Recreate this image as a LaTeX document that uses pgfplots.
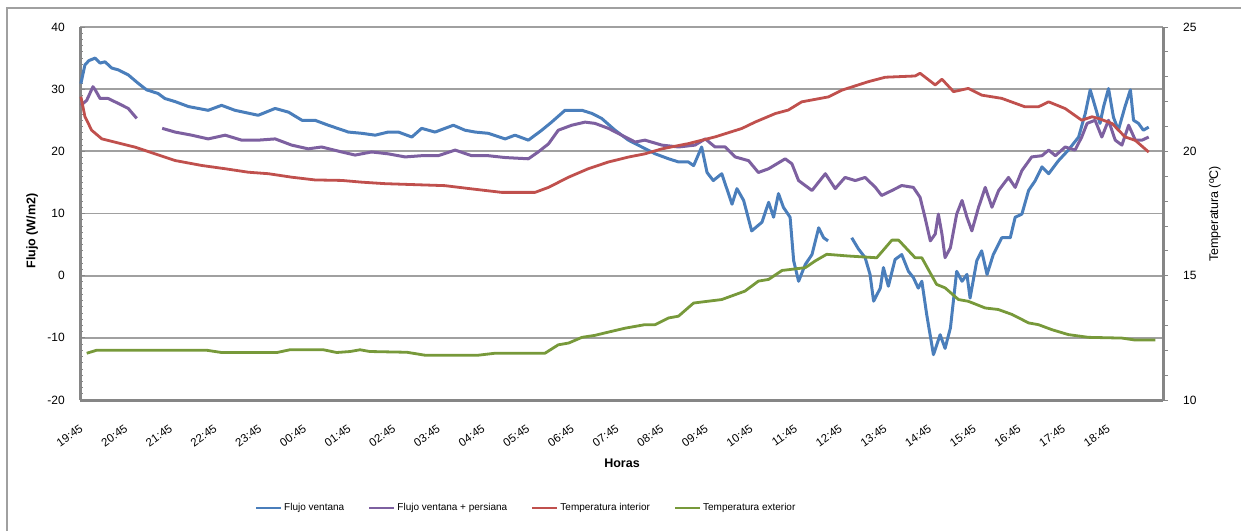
\documentclass[border=0pt]{standalone}
\usepackage{pgfplots}
\pgfplotsset{compat=1.18}
\usepackage{fontspec}
\setmainfont{Liberation Sans}
\definecolor{cblue}{HTML}{4A7EBB}
\definecolor{cpurple}{HTML}{7D60A0}
\definecolor{cred}{HTML}{C0504D}
\definecolor{cgreen}{HTML}{77993A}
\definecolor{gridgray}{HTML}{A0A0A0}
\definecolor{axisgray}{HTML}{868686}
\begin{document}
\begin{tikzpicture}[x=1pt,y=1pt]
\useasboundingbox (0,0) rectangle (1241,531);
\draw[gridgray, line width=1.5pt] (7,0) -- (7,523) -- (1241,523);
\begin{axis}[
  at={(80pt,131pt)}, anchor=south west,
  scale only axis, width=1083pt, height=373pt,
  xmin=0, xmax=24.25, ymin=-20, ymax=40,
  axis x line*=bottom, axis y line*=left,
  axis line style={-, draw=axisgray, line width=3pt},
  ytick={-20,-10,...,40}, minor y tick num=9,
  tick align=inside, major tick length=5pt, minor tick length=3pt,
  ytick style={draw=axisgray, line width=0.8pt},
  minor tick style={draw=axisgray, line width=0.6pt},
  xtick style={draw=none},
  ymajorgrids, grid style={draw=gridgray, line width=1.8pt},
  xtick={0,1,...,23},
  xticklabels={19:45,20:45,21:45,22:45,23:45,00:45,01:45,02:45,03:45,04:45,05:45,06:45,07:45,08:45,09:45,10:45,11:45,12:45,13:45,14:45,15:45,16:45,17:45,18:45},
  xticklabel style={xshift=2pt, yshift=-27pt, rotate=35, anchor=east, inner sep=0.5pt, font=\fontsize{11.5}{12}\selectfont},
  yticklabel style={anchor=east, inner sep=0pt, xshift=-15pt, font=\fontsize{12}{14}\selectfont},
  /pgf/number format/assume math mode=true,
  ylabel={\textbf{Flujo (W/m2)}},
  ylabel style={at={(axis description cs:-0.0443,0.453)}, anchor=center, font=\fontsize{12.5}{14}\selectfont},
  xlabel={\textbf{Horas}},
  xlabel style={at={(axis description cs:0.5005,-0.169)}, anchor=center, font=\fontsize{12.5}{14}\selectfont},
  unbounded coords=jump,
  clip=false,
]
% Flujo ventana
\addplot[cblue, line width=3pt, line join=round] coordinates {
(0.02,30.9) (0.11,33.9) (0.20,34.6) (0.34,35.0) (0.45,34.2) (0.56,34.4) (0.71,33.4) (0.86,33.1) (1.08,32.3)
(1.31,30.9) (1.49,29.9) (1.75,29.3) (1.90,28.5) (2.13,28.0) (2.43,27.2) (2.87,26.6) (3.17,27.4) (3.47,26.6)
(3.99,25.8) (4.37,26.9) (4.67,26.3) (4.97,25.0) (5.26,25.0) (5.56,24.2) (6.01,23.1) (6.31,22.9) (6.61,22.6)
(6.90,23.1) (7.13,23.1) (7.43,22.3) (7.65,23.7) (7.95,23.1) (8.36,24.2) (8.62,23.4) (8.85,23.1) (9.14,22.9)
(9.52,22.0) (9.74,22.6) (10.04,21.8) (10.34,23.4) (10.56,24.7) (10.86,26.6) (11.24,26.6) (11.46,26.1)
(11.68,25.3) (11.98,23.4) (12.28,21.8) (12.58,20.7) (12.88,19.6) (13.18,18.8) (13.40,18.3) (13.62,18.3)
(13.74,17.7) (13.92,20.7) (14.04,16.6) (14.18,15.3) (14.37,16.4) (14.60,11.5) (14.71,14.0) (14.86,12.1)
(15.04,7.2) (15.27,8.6) (15.42,11.8) (15.53,9.4) (15.64,13.2) (15.75,11.0) (15.90,9.4) (15.98,2.4)
(16.09,-0.9) (16.24,1.8) (16.39,3.4) (16.54,7.7) (16.65,6.1) (16.75,5.6)
(17.00,nan)
(17.28,6.1) (17.43,4.3) (17.58,2.9) (17.69,0.2) (17.77,-4.1) (17.92,-2.0) (17.99,1.3) (18.10,-1.7)
(18.25,2.6) (18.40,3.4) (18.55,0.7) (18.66,-0.3) (18.77,-2.0) (18.85,-0.9) (18.96,-6.3) (19.11,-12.7)
(19.26,-9.5) (19.37,-11.7) (19.49,-8.4) (19.63,0.7) (19.75,-0.9) (19.86,0.2) (19.93,-3.6) (20.08,2.4)
(20.19,4.0) (20.31,0.2) (20.45,3.4) (20.64,6.1) (20.83,6.1) (20.94,9.4) (21.09,9.9) (21.24,13.7)
(21.39,15.3) (21.54,17.5) (21.69,16.4) (21.91,18.5) (22.13,20.2) (22.36,22.3) (22.51,26.1) (22.62,29.9)
(22.73,27.2) (22.84,24.5) (22.92,27.2) (23.03,30.1) (23.14,25.5) (23.25,23.4) (23.40,27.2) (23.52,29.9)
(23.59,25.0) (23.70,24.5) (23.81,23.4) (23.93,23.9)
};
% Flujo ventana + persiana
\addplot[cpurple, line width=3pt, line join=round] coordinates {
(0.02,27.4) (0.15,28.2) (0.29,30.4) (0.34,29.9) (0.45,28.5) (0.63,28.5) (0.86,27.7) (1.08,26.9) (1.27,25.3)
(1.50,nan)
(1.84,23.7) (2.13,23.1) (2.50,22.6) (2.87,22.0) (3.25,22.6) (3.62,21.8) (3.99,21.8) (4.37,22.0) (4.74,21.0)
(5.11,20.4) (5.41,20.7) (5.86,19.9) (6.16,19.4) (6.53,19.9) (6.90,19.6) (7.28,19.1) (7.65,19.3) (8.02,19.3)
(8.40,20.2) (8.77,19.3) (9.14,19.3) (9.52,19.0) (10.04,18.8) (10.26,19.9) (10.49,21.2) (10.71,23.4)
(11.01,24.2) (11.31,24.7) (11.53,24.5) (11.83,23.7) (12.13,22.6) (12.43,21.5) (12.65,21.8) (13.03,21.0)
(13.40,20.7) (13.77,21.0) (14.00,22.0) (14.22,20.7) (14.45,20.7) (14.67,19.1) (14.97,18.5) (15.19,16.6)
(15.42,17.2) (15.79,18.8) (15.94,18.0) (16.09,15.3) (16.39,13.7) (16.69,16.4) (16.91,14.0) (17.13,15.8)
(17.36,15.3) (17.58,15.8) (17.81,14.2) (17.95,12.9) (18.18,13.7) (18.40,14.5) (18.66,14.2) (18.81,12.6)
(18.92,9.4) (19.04,5.6) (19.15,6.7) (19.22,9.9) (19.30,6.7) (19.37,2.9) (19.49,4.5) (19.63,9.9) (19.75,12.1)
(19.86,9.4) (19.97,7.2) (20.12,11.0) (20.27,14.2) (20.42,11.0) (20.57,13.7) (20.79,15.8) (20.94,14.2)
(21.09,16.9) (21.31,19.1) (21.54,19.3) (21.69,20.2) (21.84,19.3) (22.06,20.7) (22.28,20.2) (22.43,22.3)
(22.55,24.5) (22.73,25.0) (22.88,22.3) (23.03,25.0) (23.18,21.8) (23.33,21.0) (23.48,24.2) (23.63,21.8)
(23.78,21.8) (23.93,22.3)
};
\end{axis}
\begin{axis}[
  at={(80pt,131pt)}, anchor=south west,
  scale only axis, width=1083pt, height=373pt,
  xmin=0, xmax=24.25, ymin=10, ymax=25,
  axis x line=none, axis y line*=right,
  axis line style={-, draw=axisgray, line width=3pt},
  ytick={10,15,20,25}, minor y tick num=4,
  tick align=outside, major tick length=5pt, minor tick length=5pt,
  ytick style={draw=axisgray, line width=0.8pt},
  minor tick style={draw=axisgray, line width=0.8pt},
  yticklabel style={anchor=west, inner sep=0pt, xshift=15pt, font=\fontsize{12}{14}\selectfont},
  /pgf/number format/assume math mode=true,
  ylabel={Temperatura (ºC)},
  ylabel style={at={(axis description cs:1.048,0.499)}, anchor=center, font=\fontsize{12.5}{14}\selectfont},
  legend columns=4,
  legend style={at={(axis description cs:0.412,-0.2895)}, anchor=center, draw=none, fill=none,
    font=\fontsize{10}{12}\selectfont, /tikz/every even column/.append style={column sep=22pt}},
  legend image code/.code={\draw[#1, line width=2.2pt] (0pt,0pt) -- (25pt,0pt);},
  clip=false,
]
\addlegendimage{cblue, line width=3pt}
\addlegendentry{Flujo ventana}
\addlegendimage{cpurple, line width=3pt}
\addlegendentry{Flujo ventana + persiana}
% Temperatura interior
\addplot[cred, line width=2.8pt, line join=round] coordinates {
(0.02,22.2) (0.11,21.4) (0.26,20.85) (0.49,20.5) (0.78,20.37) (1.23,20.17) (1.68,19.9) (2.13,19.63)
(2.73,19.43) (3.25,19.3) (3.77,19.16) (4.22,19.1) (4.74,18.96) (5.26,18.85) (5.86,18.83) (6.31,18.76)
(6.83,18.7) (8.17,18.62) (8.77,18.49) (9.44,18.35) (10.19,18.35) (10.49,18.55) (10.94,18.96) (11.38,19.3)
(11.83,19.57) (12.28,19.77) (12.65,19.9) (13.03,20.1) (13.62,20.31) (14.22,20.58) (14.82,20.92)
(15.12,21.18) (15.57,21.52) (15.86,21.66) (16.16,21.99) (16.76,22.19) (17.06,22.46) (17.65,22.8)
(18.03,22.98) (18.70,23.03) (18.81,23.14) (19.15,22.67) (19.30,22.9) (19.56,22.4) (19.89,22.53)
(20.19,22.26) (20.64,22.13) (21.16,21.79) (21.46,21.79) (21.69,21.99) (22.06,21.72) (22.43,21.25)
(22.66,21.39) (22.81,21.32) (23.11,21.12) (23.40,20.58) (23.63,20.44) (23.93,19.97)
};
\addlegendentry{Temperatura interior}
% Temperatura exterior
\addplot[cgreen, line width=2.8pt, line join=round] coordinates {
(0.15,11.88) (0.37,12.0) (2.84,12.0) (3.17,11.91) (4.41,11.91) (4.70,12.02) (5.45,12.02) (5.75,11.91)
(6.05,11.95) (6.27,12.02) (6.49,11.95) (7.32,11.92) (7.73,11.8) (8.91,11.8) (9.29,11.88) (10.41,11.88)
(10.71,12.22) (10.94,12.29) (11.24,12.52) (11.53,12.6) (11.83,12.73) (12.21,12.89) (12.65,13.03)
(12.88,13.03) (13.18,13.3) (13.40,13.37) (13.74,13.9) (14.37,14.04) (14.89,14.38) (15.19,14.78)
(15.42,14.85) (15.72,15.21) (16.24,15.32) (16.46,15.59) (16.72,15.86) (17.21,15.79) (17.84,15.72)
(18.18,16.43) (18.33,16.43) (18.70,15.72) (18.85,15.72) (19.18,14.65) (19.37,14.51) (19.67,14.04)
(19.89,13.97) (20.27,13.7) (20.56,13.64) (20.87,13.44) (21.24,13.1) (21.46,13.03) (21.76,12.83)
(22.13,12.63) (22.58,12.52) (23.33,12.49) (23.63,12.41) (24.08,12.41)
};
\addlegendentry{Temperatura exterior}
\end{axis}
\end{tikzpicture}
\end{document}
